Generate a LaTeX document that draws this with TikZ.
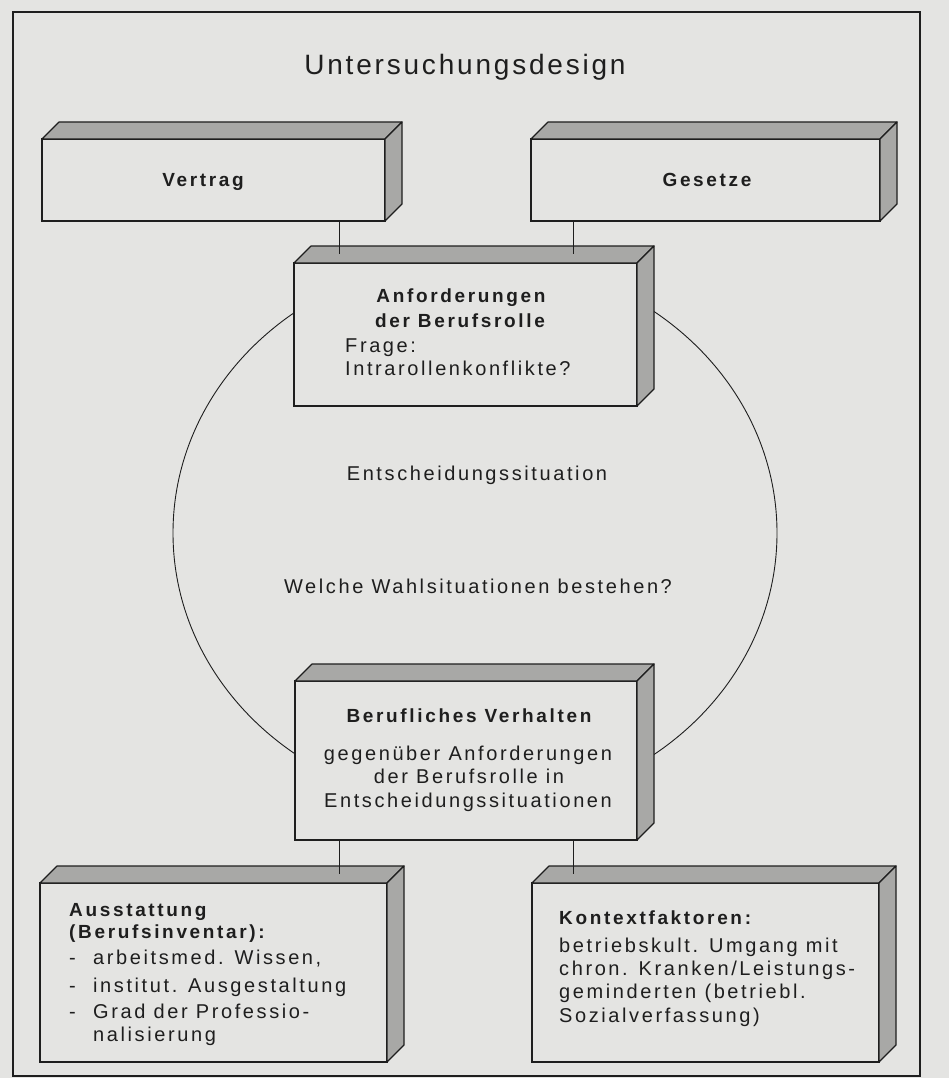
\documentclass[tikz,border=0pt]{standalone}
\usepackage{fontspec}
\setmainfont{Liberation Sans}
\newfontfamily\dfont{Liberation Sans}[LetterSpace=13]
\newfontfamily\bfont{Liberation Sans}[LetterSpace=14]
\newfontfamily\tfont{Liberation Sans}[LetterSpace=10]
\definecolor{paper}{RGB}{228,228,226}
\definecolor{shade}{RGB}{168,168,166}
\definecolor{ink}{RGB}{30,30,30}
\newcommand\solidfaces[1]{%
  \filldraw[face] (#1.north west) -- ++(17,-17) -- ([shift={(17,-17)}]#1.north east) -- (#1.north east) -- cycle;
  \filldraw[face] (#1.north east) -- ++(17,-17) -- ([shift={(17,-17)}]#1.south east) -- (#1.south east) -- cycle;}
\begin{document}
\begin{tikzpicture}[x=1pt,y=-1pt,
  box/.style={draw=ink, line width=1.4pt, fill=paper, inner sep=0pt, outer sep=0pt, anchor=north west},
  face/.style={draw=ink, fill=shade, line width=1.2pt, line join=round},
  conn/.style={draw=ink, line width=1pt},
  txt/.style={text=ink, inner sep=0pt, font=\dfont\fontsize{20}{24}\selectfont},
  btxt/.style={text=ink, inner sep=0pt, font=\bfont\bfseries\fontsize{19}{24}\selectfont},
  ttl/.style={text=ink, inner sep=0pt, font=\tfont\fontsize{28}{32}\selectfont}]
\fill[paper] (0,0) rectangle (949,1078);
\useasboundingbox (0,0) rectangle (949,1078);
% frame
\draw[ink, line width=1.1pt] (13,12) rectangle (920,1076);
% title
\node[ttl, anchor=base] (title) at (465,75) {Untersuchungsdesign};
% ellipse
\draw[ink, line width=0.9pt] (475,533) ellipse [x radius=302pt, y radius=275pt];
% boxes
\node[box, minimum width=343pt, minimum height=82pt] (vertrag) at (42,139) {};
\node[box, minimum width=349pt, minimum height=82pt] (gesetze) at (531,139) {};
\node[box, minimum width=343pt, minimum height=143pt] (anf) at (294,263) {};
\node[box, minimum width=342pt, minimum height=159pt] (beruf) at (295,681) {};
\node[box, minimum width=347pt, minimum height=179pt] (ausst) at (40,883) {};
\node[box, minimum width=347pt, minimum height=179pt] (kontext) at (532,883) {};
\solidfaces{vertrag}
\solidfaces{gesetze}
\solidfaces{anf}
\solidfaces{beruf}
\solidfaces{ausst}
\solidfaces{kontext}
% connector end points on the top faces
\coordinate (anfL) at (339,254);
\coordinate (anfR) at (573,254);
\coordinate (ausT) at (339,874);
\coordinate (konT) at (573,874);
\draw[conn] (vertrag.south -| anfL) -- (anfL);
\draw[conn] (gesetze.south -| anfR) -- (anfR);
\draw[conn] (beruf.south -| ausT) -- (ausT);
\draw[conn] (beruf.south -| konT) -- (konT);
% texts
\node[btxt, anchor=base] (tv) at (203,186) {Vertrag};
\node[btxt, anchor=base] (tg) at (707,186) {Gesetze};
\node[btxt, anchor=base] (ta1) at (461,302) {Anforderungen};
\node[btxt, anchor=base] (ta2) at (460,327) {der Berufsrolle};
\node[txt, anchor=base west] (ta3) at (345,352) {Frage:};
\node[txt, anchor=base west] (ta4) at (345,375) {Intrarollenkonflikte?};
\node[txt, anchor=base] (te1) at (477,480) {Entscheidungssituation};
\node[txt, anchor=base] (te2) at (478,593) {Welche Wahlsituationen bestehen?};
\node[btxt, anchor=base] (tb1) at (469,722) {Berufliches Verhalten};
\node[txt, anchor=base] (tb2) at (468,760) {gegenüber Anforderungen};
\node[txt, anchor=base] (tb3) at (469,783) {der Berufsrolle in};
\node[txt, anchor=base] (tb4) at (468,807) {Entscheidungssituationen};
\node[btxt, anchor=base west] (tu1) at (69,916) {Ausstattung};
\node[btxt, anchor=base west] (tu2) at (69,938) {(Berufsinventar):};
\node[txt, anchor=base west] (tu3) at (69,964) {\makebox[24pt][l]{-}arbeitsmed. Wissen,};
\node[txt, anchor=base west] (tu4) at (69,992) {\makebox[24pt][l]{-}institut. Ausgestaltung};
\node[txt, anchor=base west] (tu5) at (69,1018) {\makebox[24pt][l]{-}Grad der Professio-};
\node[txt, anchor=base west] (tu6) at (93,1041) {nalisierung};
\node[btxt, anchor=base west] (tk1) at (559,924) {Kontextfaktoren:};
\node[txt, anchor=base west] (tk2) at (559,952) {betriebskult. Umgang mit};
\node[txt, anchor=base west] (tk3) at (559,975) {chron. Kranken/Leistungs-};
\node[txt, anchor=base west] (tk4) at (559,998) {geminderten (betriebl.};
\node[txt, anchor=base west] (tk5) at (559,1022) {Sozialverfassung)};
\end{tikzpicture}
\end{document}
